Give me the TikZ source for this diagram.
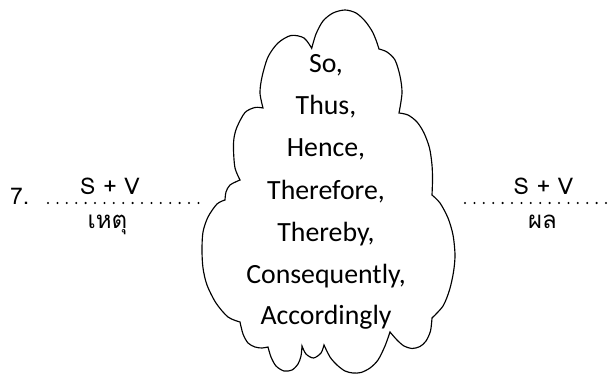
\documentclass[tikz,border=0pt]{standalone}
\usepackage{fontspec}
\setmainfont{Carlito}
\newfontfamily\thaifont[Script=Thai]{Loma}
\tikzset{
  cloudline/.style={draw=black, line width=1.15pt, fill=white, line join=miter},
  cloudtext/.style={anchor=base, inner sep=0pt, font=\fontsize{27.8}{30}\selectfont},
  sidetext/.style={anchor=base, inner sep=0pt, font=\thaifont\fontsize{23}{26}\selectfont},
  thaitext/.style={anchor=base, inner sep=0pt, font=\thaifont\fontsize{24}{28}\selectfont},
  dotline/.style={line width=2.3pt, line cap=round, dash pattern=on 0pt off 9.4pt}
}
\begin{document}
\begin{tikzpicture}[x=1pt,y=-1pt]
\useasboundingbox (0,0) rectangle (613,374);
% cloud outline, puff by puff
\draw[cloudline]
  plot[smooth] coordinates {(263,108) (260,93) (262,77) (268,57) (278,43) (291,35.5) (304,38) (311.7,48.3)}
  -- plot[smooth] coordinates {(311.7,48.3) (316,34) (323,21) (333,13) (345,10) (356,13) (365,21) (372,31) (376,40) (379,49)}
  -- plot[smooth] coordinates {(379,49) (387,52) (395,60) (400,76) (402,93) (399,113)}
  -- plot[smooth] coordinates {(399,113) (408,115) (417,122) (424,133) (429.5,148) (432,165) (432.5,180) (432,195)}
  -- plot[smooth] coordinates {(432,195) (440,203) (448,218) (453,235) (455,255) (453.5,272) (449.5,290) (443,306) (432,318)}
  -- plot[smooth] coordinates {(432,318) (430.5,331) (426,341) (420,346.5) (412,348.5) (404,346) (397,340) (390,332)}
  -- plot[smooth] coordinates {(390,332) (385,346) (378,360) (370,368) (361,372.5) (353,373) (345,371) (337,365) (330,357) (324,345)}
  -- plot[smooth] coordinates {(324,345) (321,353) (313.5,358) (306,354) (302,346)}
  -- plot[smooth] coordinates {(302,346) (301,356) (298,364) (292,370) (284,371) (276,366) (271,357) (268,347)}
  -- plot[smooth] coordinates {(268,347) (262,348) (255,347) (248,343) (243,334) (240,322)}
  -- plot[smooth] coordinates {(240,322) (228,317) (216,303) (207,285) (203,268) (202,250) (203,232) (208,217) (217,204) (225,200)}
  -- plot[smooth] coordinates {(225,200) (226,192) (230,185) (240,180)}
  -- plot[smooth] coordinates {(240,180) (235,168) (233.5,150) (234,138) (237,127) (245,112.5) (255,107.5) (263,108)}
  -- cycle;
\node[cloudtext] (w1) at (326,73) {So,};
\node[cloudtext] (w2) at (326,114.5) {Thus,};
\node[cloudtext] (w3) at (326,157) {Hence,};
\node[cloudtext] (w4) at (326,199.5) {Therefore,};
\node[cloudtext] (w5) at (326,241.5) {Thereby,};
\node[cloudtext] (w6) at (326,283) {Consequently,};
\node[cloudtext] (w7) at (326,324.5) {Accordingly};
\node[sidetext, anchor=base west] (num) at (10,205) {7.};
\node[sidetext] (sv1) at (110,195) {S + V};
\node[sidetext] (sv2) at (543.5,195) {S + V};
\node[thaitext] (th1) at (107.5,229) {เหตุ};
\node[thaitext] (th2) at (542.5,229) {ผล};
\coordinate (l1) at (48,203);
\coordinate (l2) at (200,203);
\coordinate (r1) at (465,203);
\coordinate (r2) at (613,203);
\draw[dotline] (l1) -- (l2);
\draw[dotline] (r1) -- (r2);
\end{tikzpicture}
\end{document}
